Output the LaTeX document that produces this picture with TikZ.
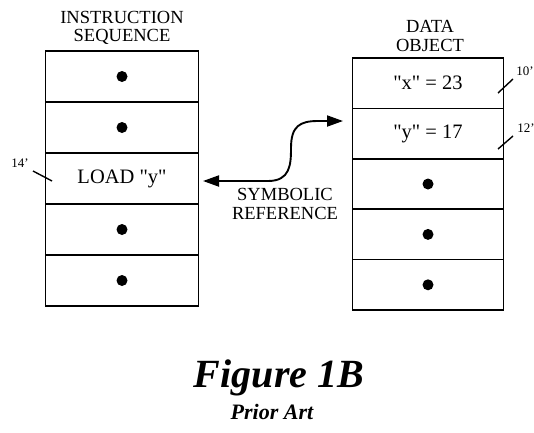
\documentclass[tikz,border=0pt]{standalone}
\usepackage{fontspec}
\setmainfont{Liberation Serif}
\newfontfamily\qfont{Liberation Serif}[Ligatures=TeXOff]
\usetikzlibrary{arrows.meta}
\newcommand{\qq}{{\qfont"}}
\begin{document}
\begin{tikzpicture}[x=1pt,y=-1pt,
  cellL/.style={draw,line width=1.6pt,minimum width=153pt,minimum height=51pt,inner sep=0pt,font=\fontsize{20.5}{22}\selectfont},
  cellR/.style={draw,line width=1.6pt,minimum width=151pt,minimum height=50.4pt,inner sep=0pt,font=\fontsize{20.5}{22}\selectfont},
  head/.style={align=center,font=\fontsize{18.5}{18.5}\selectfont,inner sep=0pt},
  dotmark/.style={circle,fill=black,inner sep=0pt,minimum size=11pt},
  refnum/.style={font=\fontsize{13}{13}\selectfont,inner sep=0pt},
  leader/.style={line width=1.4pt},
  conn/.style={line width=1.9pt,{Triangle[length=16pt,width=11pt]}-{Triangle[length=16pt,width=11pt]}}]
\useasboundingbox (0,0) rectangle (534,432);
% left column
\node[cellL] (l1) at (122,76.5) {};
\node[cellL] (l2) at (122,127.5) {};
\node[cellL] (l3) at (122,178.5) {LOAD \qq y\qq};
\node[cellL] (l4) at (122,229.5) {};
\node[cellL] (l5) at (122,280.5) {};
\node[dotmark] (d1) at (l1) {};
\node[dotmark] (d2) at (l2) {};
\node[dotmark] (d4) at (l4) {};
\node[dotmark] (d5) at (l5) {};
\node[head] (hl) at (122,28) {INSTRUCTION\\SEQUENCE};
% right column
\node[cellR] (r1) at (428,83.2) {\qq x\qq{} = 23};
\node[cellR] (r2) at (428,133.6) {\qq y\qq{} = 17};
\node[cellR] (r3) at (428,184) {};
\node[cellR] (r4) at (428,234.4) {};
\node[cellR] (r5) at (428,284.8) {};
\node[dotmark] (e3) at (r3) {};
\node[dotmark] (e4) at (r4) {};
\node[dotmark] (e5) at (r5) {};
\node[head] (hr) at (430,36) {DATA\\OBJECT};
% symbolic reference
\coordinate (sa) at (203,181);
\coordinate (sb) at (343,121);
\draw[conn] (sa) -- (268,181) .. controls (290,181) and (291,165) .. (291,148)
  .. controls (291,126) and (300,121) .. (318,121) -- (sb);
\node[head] (sym) at (285,204) {SYMBOLIC\\REFERENCE};
% reference numerals
\coordinate (p14) at (52,181);
\node[refnum] (n14) at (20,163) {14'};
\draw[leader] (p14) -- (33,171);
\coordinate (p10) at (498,93);
\node[refnum] (n10) at (525,71) {10'};
\draw[leader] (p10) -- (513,79);
\coordinate (p12) at (498,149);
\node[refnum] (n12) at (526,128) {12'};
\draw[leader] (p12) -- (513,136);
% caption
\node[font=\fontsize{40}{42}\selectfont\bfseries\itshape,inner sep=0pt] (fig) at (279,378) {Figure 1B};
\node[font=\fontsize{22}{23}\selectfont\bfseries\itshape,inner sep=0pt] (pa) at (272,412) {Prior Art};
\end{tikzpicture}
\end{document}
